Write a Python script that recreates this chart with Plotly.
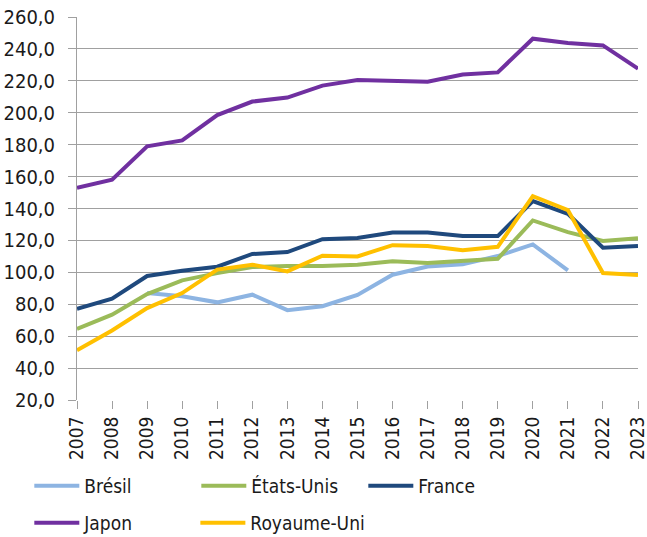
import plotly.graph_objects as go

years = list(range(2007, 2024))

bresil = [None, None, 87.0, 85.0, 81.2, 86.0, 76.3, 78.8, 85.8, 98.5, 103.7, 105.0, 110.2, 117.5, 101.2, None, None]
etats_unis = [64.5, 73.5, 86.4, 95.0, 99.5, 103.3, 104.0, 104.0, 104.8, 106.9, 105.8, 107.0, 108.5, 132.5, 125.2, 119.6, 121.3]
france = [77.2, 83.5, 97.7, 101.0, 103.5, 111.5, 112.7, 120.8, 121.5, 125.0, 125.0, 122.7, 122.7, 144.6, 136.7, 115.4, 116.5]
japon = [153.0, 158.0, 179.0, 182.7, 198.5, 207.0, 209.5, 217.0, 220.5, 220.0, 219.5, 224.0, 225.3, 246.4, 243.7, 242.2, 227.6]
royaume_uni = [51.1, 63.6, 77.6, 87.0, 101.7, 104.8, 100.6, 110.4, 110.0, 117.0, 116.5, 113.9, 116.0, 147.7, 139.0, 99.6, 98.3]

# (name, values, colour, legend box)
series = [
    ("Brésil", bresil, "#8DB4E2", "legend"),
    ("États-Unis", etats_unis, "#9BBB59", "legend"),
    ("France", france, "#1F497D", "legend"),
    ("Japon", japon, "#7030A0", "legend2"),
    ("Royaume-Uni", royaume_uni, "#FFC000", "legend3"),
]

FONT = "DejaVu Sans Condensed, sans-serif"
TEXT = "#1a1a1a"

fig = go.Figure()
for name, vals, color, leg in series:
    fig.add_trace(go.Scatter(
        x=years, y=vals, name=name, mode="lines",
        line=dict(color=color, width=4),
        connectgaps=False,
        legend=leg,
    ))

legend_common = dict(
    orientation="h",
    xanchor="left",
    yanchor="middle",
    itemwidth=45,
    font=dict(family=FONT, size=19, color=TEXT),
    bgcolor="rgba(0,0,0,0)",
)

fig.update_layout(
    width=647, height=537,
    margin=dict(l=77, r=9, t=17, b=137, autoexpand=False),
    plot_bgcolor="white", paper_bgcolor="white",
    separators=", ",
    font=dict(family=FONT, size=20, color=TEXT),
    showlegend=True,
    # first row: three columns ~166 px apart
    legend=dict(legend_common, x=-0.085, y=-0.2245,
                entrywidth=107, entrywidthmode="pixels"),
    # second row
    legend2=dict(legend_common, x=-0.085, y=-0.321),
    legend3=dict(legend_common, x=0.211, y=-0.321),
)

fig.update_xaxes(
    range=[2007, 2023],
    tickmode="array", tickvals=years, ticktext=[str(y) for y in years],
    tickangle=-90,
    tickfont=dict(size=19),
    showgrid=False,
    showline=False,
    ticks="outside", ticklen=8, tickcolor="#a0a0a0", tickwidth=1,
    ticklabeloverflow="allow",
    zeroline=False,
    automargin=False,
)
fig.update_yaxes(
    range=[20, 260],
    tickmode="linear", tick0=20, dtick=20,
    tickformat=".1f",
    showgrid=True, gridcolor="#a0a0a0", gridwidth=1,
    showline=True, linecolor="#a0a0a0", linewidth=1,
    ticks="outside", ticklen=8, tickcolor="#a0a0a0", tickwidth=1,
    ticklabelstandoff=9,
    zeroline=False,
    automargin=False,
)

fig.write_html("out.html")
